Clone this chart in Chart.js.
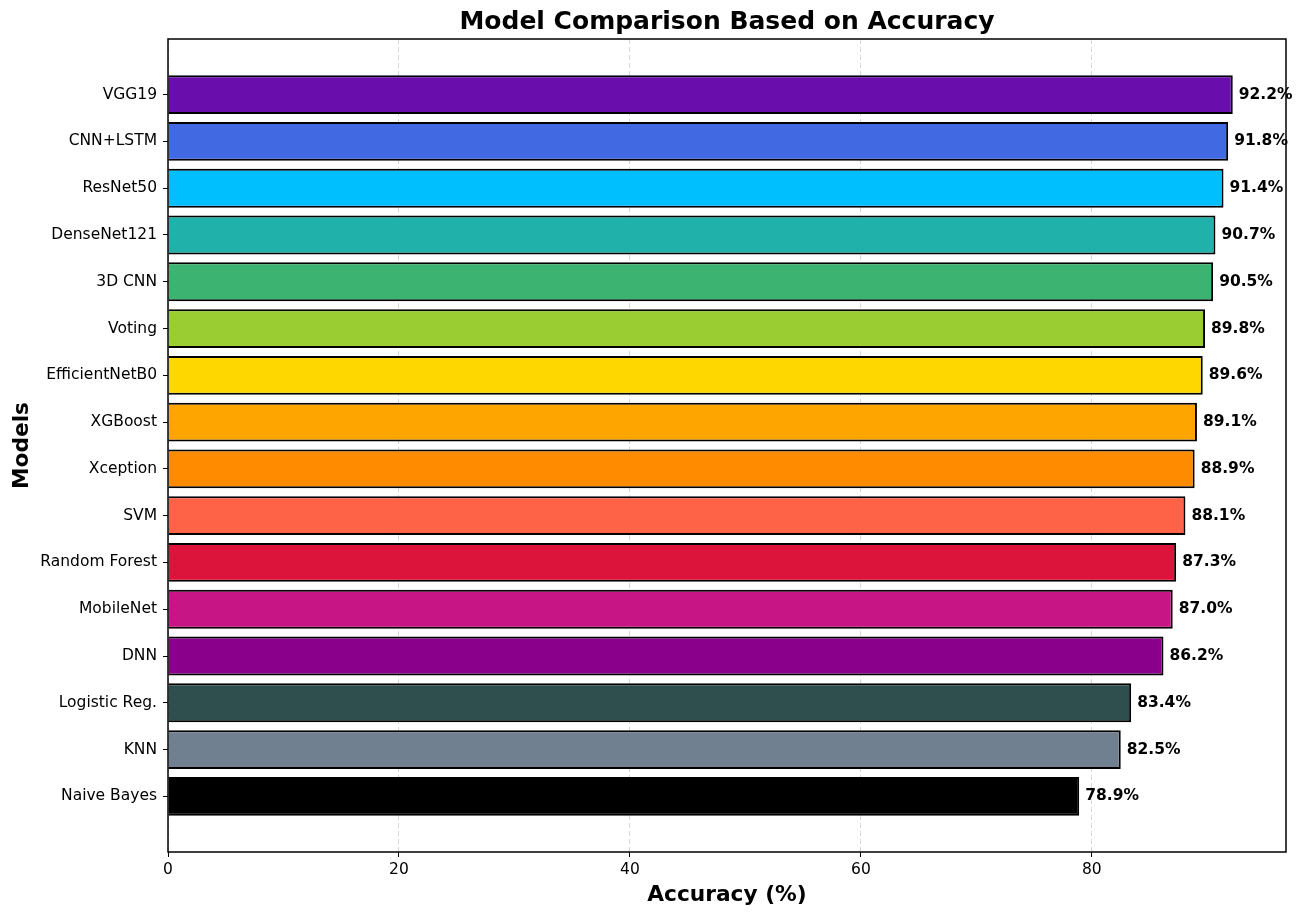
<!DOCTYPE html>
<html>
<head>
<meta charset="utf-8">
<script src="https://cdn.jsdelivr.net/npm/chart.js@4/dist/chart.umd.min.js"></script>
<style>
  html, body { margin: 0; padding: 0; background: #fff; }
  canvas { display: block; }
</style>
</head>
<body>
<canvas id="grafico" width="1305" height="918"></canvas>
<script>
// dati (dall'alto verso il basso)
var models = ['VGG19', 'CNN+LSTM', 'ResNet50', 'DenseNet121', '3D CNN', 'Voting', 'EfficientNetB0', 'XGBoost',
              'Xception', 'SVM', 'Random Forest', 'MobileNet', 'DNN', 'Logistic Reg.', 'KNN', 'Naive Bayes'];
var accuracy = [92.2, 91.8, 91.4, 90.7, 90.5, 89.8, 89.6, 89.1, 88.9, 88.1, 87.3, 87.0, 86.2, 83.4, 82.5, 78.9];
var barColors = ['#6A0DAD', '#4169E1', '#00BFFF', '#20B2AA', '#3CB371', '#9ACD32', '#FFD700', '#FFA500',
                 '#FF8C00', '#FF6347', '#DC143C', '#C71585', '#8B008B', '#2F4F4F', '#708090', '#000000'];
var xTicks = [0, 20, 40, 60, 80];

var n = models.length;
var font = 'DejaVu Sans';

// posizione y: il primo modello in alto
var points = accuracy.map(function(v, i) { return { x: v, y: n - 1 - i }; });

var titlePlugin = {
  id: 'titoloEcornice',
  afterDatasetsDraw: function(chart) {
    var ctx = chart.ctx;
    var meta = chart.getDatasetMeta(0);
    ctx.save();
    ctx.fillStyle = '#000';
    ctx.font = 'bold 15.5px "' + font + '"';
    ctx.textAlign = 'left';
    ctx.textBaseline = 'middle';
    meta.data.forEach(function(bar, i) {
      ctx.fillText(accuracy[i].toFixed(1) + '%', bar.x + 6, bar.y);
    });
    ctx.restore();
  },
  afterDraw: function(chart) {
    var ctx = chart.ctx;
    var a = chart.chartArea;
    ctx.save();
    ctx.strokeStyle = '#000';
    ctx.lineWidth = 1.5;
    ctx.strokeRect(a.left, a.top, a.right - a.left, a.bottom - a.top);
    ctx.fillStyle = '#000';
    ctx.font = 'bold 25px "' + font + '"';
    ctx.textAlign = 'center';
    ctx.textBaseline = 'middle';
    ctx.fillText('Model Comparison Based on Accuracy', (a.left + a.right) / 2, 22);
    ctx.restore();
  }
};

var config = {
  type: 'bar',
  data: {
    datasets: [{
      data: points,
      backgroundColor: barColors,
      borderColor: '#000',
      borderWidth: 2,
      barPercentage: 0.83,
      categoryPercentage: 1.0
    }]
  },
  options: {
    indexAxis: 'y',
    responsive: false,
    animation: false,
    layout: { padding: { top: 39, right: 19, left: 0, bottom: 0 } },
    plugins: {
      legend: { display: false },
      tooltip: { enabled: false }
    },
    scales: {
      x: {
        type: 'linear',
        min: 0,
        max: 96.81,
        z: 1,
        afterFit: function(scale) { scale.height = 66; },
        afterBuildTicks: function(scale) {
          scale.ticks = xTicks.map(function(v) { return { value: v }; });
        },
        ticks: {
          color: '#000',
          padding: 4,
          font: { family: font, size: 15.5 },
          callback: function(v) { return v; }
        },
        grid: {
          color: 'rgba(176,176,176,0.5)',
          lineWidth: 1,
          tickColor: '#000',
          tickLength: 5,
          tickBorderDash: []
        },
        border: { display: false, dash: [5, 3] },
        title: {
          display: true,
          text: 'Accuracy (%)',
          color: '#000',
          font: { family: font, size: 21.7, weight: 'bold' },
          padding: { top: 0, bottom: 10 }
        }
      },
      y: {
        type: 'linear',
        min: -1.19,
        max: n - 1 + 1.19,
        offset: false,
        afterFit: function(scale) { scale.width = 168; },
        afterBuildTicks: function(scale) {
          scale.ticks = models.map(function(m, i) { return { value: n - 1 - i }; });
        },
        ticks: {
          color: '#000',
          padding: 6,
          autoSkip: false,
          font: { family: font, size: 15.5 },
          callback: function(v) { return models[n - 1 - v]; }
        },
        grid: {
          offset: false,
          drawOnChartArea: false,
          tickColor: '#000',
          tickLength: 5
        },
        border: { display: false },
        title: {
          display: true,
          text: 'Models',
          color: '#000',
          font: { family: font, size: 21.7, weight: 'bold' },
          padding: { top: 9, bottom: 0 }
        }
      }
    }
  },
  plugins: [titlePlugin]
};

var ctx = document.getElementById('grafico');
window.myBar = new Chart(ctx, config);
</script>
</body>
</html>
